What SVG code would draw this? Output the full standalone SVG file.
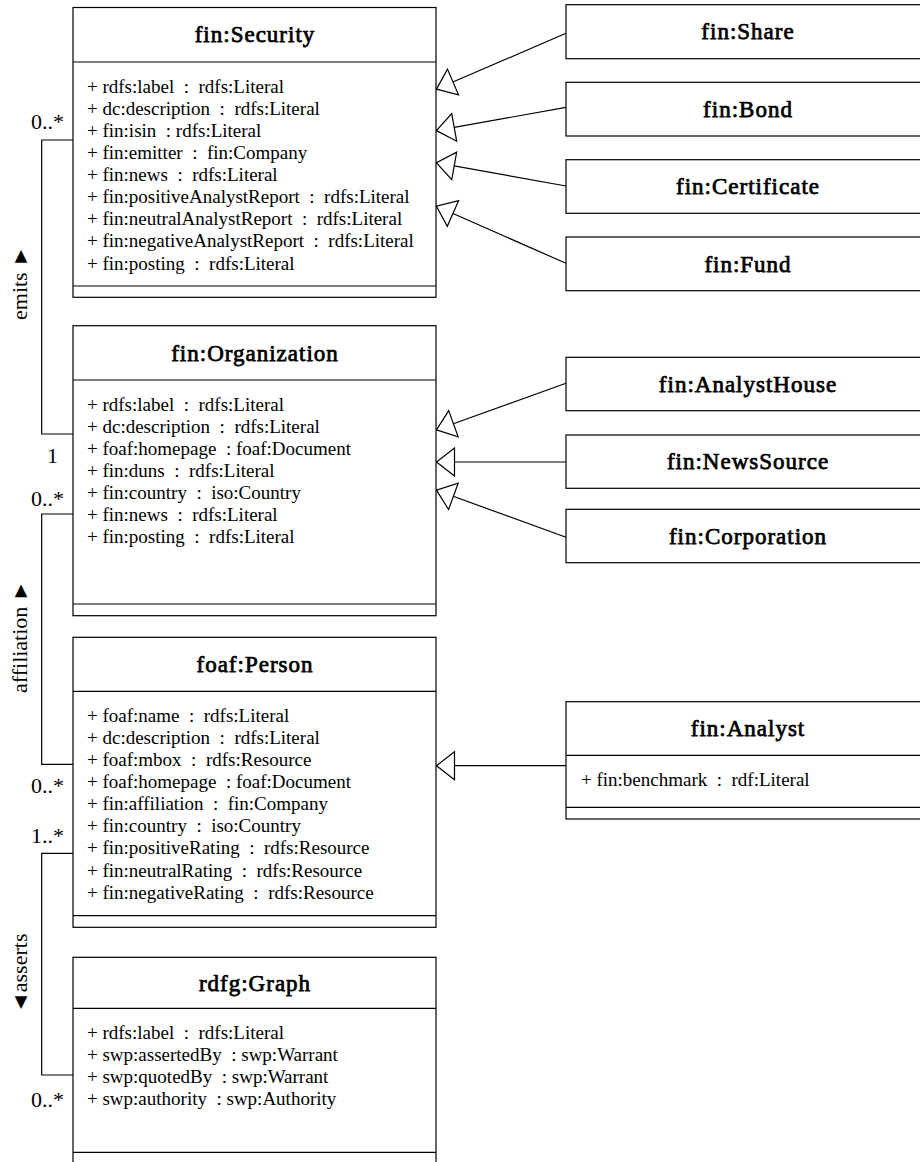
<svg xmlns="http://www.w3.org/2000/svg" width="920" height="1162" viewBox="0 0 920 1162">
<style>
.box{fill:#fff;stroke:#000;stroke-width:1.2}
.sep{stroke:#000;stroke-width:1.2;fill:none}
.title{font-family:"Liberation Serif","Times New Roman",serif;font-weight:normal;font-size:23px;letter-spacing:1px;text-anchor:middle;fill:#000;stroke:#000;stroke-width:0.75}
.attr{font-family:"Liberation Serif",serif;font-size:19px;fill:#000;white-space:pre}
.lbl{font-family:"Liberation Serif",serif;font-size:22px;fill:#000}
.mult{font-family:"Liberation Serif",serif;font-size:22px;fill:#000;text-anchor:end}
.conn{stroke:#000;stroke-width:1.2;fill:none}
.gen{stroke:#000;stroke-width:1.2;fill:none;marker-end:url(#tri)}
</style>
<defs>
<marker id="tri" markerUnits="userSpaceOnUse" viewBox="0 -15 20 30" markerWidth="20" markerHeight="30" refX="18.5" refY="0" orient="auto" overflow="visible">
<path d="M18,0 L0,-14 L0,14 Z" fill="#fff" stroke="#000" stroke-width="1.2"/>
</marker>
</defs>

<g id="connectors">
<polyline class="conn" points="73,140 41.7,140 41.7,434 73,434"/>
<polyline class="conn" points="73,514 41.7,514 41.7,764.3 73,764.3"/>
<polyline class="conn" points="73,853.3 41.7,853.3 41.7,1075 73,1075"/>
<line class="gen" x1="566" y1="33.3" x2="436" y2="89.3"/>
<line class="gen" x1="566" y1="107.3" x2="436" y2="130.7"/>
<line class="gen" x1="566" y1="186" x2="436" y2="162.7"/>
<line class="gen" x1="566" y1="263.3" x2="436" y2="206"/>
<line class="gen" x1="566" y1="383.3" x2="436" y2="430"/>
<line class="gen" x1="566" y1="462" x2="436" y2="462"/>
<line class="gen" x1="566" y1="537.3" x2="436" y2="490"/>
<line class="gen" x1="566" y1="765.7" x2="436" y2="765.7"/>
<text class="mult" x="64" y="129.3">0..*</text>
<text class="mult" x="58" y="462.7">1</text>
<text class="mult" x="64" y="506">0..*</text>
<text class="mult" x="64" y="793.3">0..*</text>
<text class="mult" x="64" y="842.7">1..*</text>
<text class="mult" x="64" y="1106.7">0..*</text>
<text class="lbl" transform="translate(27,320) rotate(-90)">emits <tspan font-size="21">►</tspan></text>
<text class="lbl" transform="translate(27,693) rotate(-90)">affiliation <tspan font-size="21">►</tspan></text>
<text class="lbl" transform="translate(27,1013) rotate(-90)"><tspan font-size="21">◄</tspan>asserts</text>
</g>

<g id="fin-Security">
<rect class="box" x="73" y="7.5" width="363" height="289.8"/>
<line class="sep" x1="73" y1="62" x2="436" y2="62"/>
<line class="sep" x1="73" y1="286" x2="436" y2="286"/>
<text class="title" x="255" y="42.4">fin:Security</text>
<text class="attr" xml:space="preserve" x="87" y="92.7">+ rdfs:label  :  rdfs:Literal</text>
<text class="attr" xml:space="preserve" x="87" y="114.8">+ dc:description  :  rdfs:Literal</text>
<text class="attr" xml:space="preserve" x="87" y="136.9">+ fin:isin  : rdfs:Literal</text>
<text class="attr" xml:space="preserve" x="87" y="159">+ fin:emitter  :  fin:Company</text>
<text class="attr" xml:space="preserve" x="87" y="181.1">+ fin:news  :  rdfs:Literal</text>
<text class="attr" xml:space="preserve" x="87" y="203.2">+ fin:positiveAnalystReport  :  rdfs:Literal</text>
<text class="attr" xml:space="preserve" x="87" y="225.3">+ fin:neutralAnalystReport  :  rdfs:Literal</text>
<text class="attr" xml:space="preserve" x="87" y="247.4">+ fin:negativeAnalystReport  :  rdfs:Literal</text>
<text class="attr" xml:space="preserve" x="87" y="269.5">+ fin:posting  :  rdfs:Literal</text>
</g>

<g id="fin-Organization">
<rect class="box" x="73" y="325.7" width="363" height="290"/>
<line class="sep" x1="73" y1="380" x2="436" y2="380"/>
<line class="sep" x1="73" y1="604" x2="436" y2="604"/>
<text class="title" x="255" y="360.6">fin:Organization</text>
<text class="attr" xml:space="preserve" x="87" y="410.8">+ rdfs:label  :  rdfs:Literal</text>
<text class="attr" xml:space="preserve" x="87" y="432.9">+ dc:description  :  rdfs:Literal</text>
<text class="attr" xml:space="preserve" x="87" y="455">+ foaf:homepage  : foaf:Document</text>
<text class="attr" xml:space="preserve" x="87" y="477.1">+ fin:duns  :  rdfs:Literal</text>
<text class="attr" xml:space="preserve" x="87" y="499.2">+ fin:country  :  iso:Country</text>
<text class="attr" xml:space="preserve" x="87" y="521.3">+ fin:news  :  rdfs:Literal</text>
<text class="attr" xml:space="preserve" x="87" y="543.4">+ fin:posting  :  rdfs:Literal</text>
</g>

<g id="foaf-Person">
<rect class="box" x="73" y="637.3" width="363" height="290"/>
<line class="sep" x1="73" y1="691.3" x2="436" y2="691.3"/>
<line class="sep" x1="73" y1="915.7" x2="436" y2="915.7"/>
<text class="title" x="255" y="672">foaf:Person</text>
<text class="attr" xml:space="preserve" x="87" y="721.8">+ foaf:name  :  rdfs:Literal</text>
<text class="attr" xml:space="preserve" x="87" y="743.9">+ dc:description  :  rdfs:Literal</text>
<text class="attr" xml:space="preserve" x="87" y="766">+ foaf:mbox  :  rdfs:Resource</text>
<text class="attr" xml:space="preserve" x="87" y="788.1">+ foaf:homepage  : foaf:Document</text>
<text class="attr" xml:space="preserve" x="87" y="810.2">+ fin:affiliation  :  fin:Company</text>
<text class="attr" xml:space="preserve" x="87" y="832.3">+ fin:country  :  iso:Country</text>
<text class="attr" xml:space="preserve" x="87" y="854.4">+ fin:positiveRating  :  rdfs:Resource</text>
<text class="attr" xml:space="preserve" x="87" y="876.5">+ fin:neutralRating  :  rdfs:Resource</text>
<text class="attr" xml:space="preserve" x="87" y="898.6">+ fin:negativeRating  :  rdfs:Resource</text>
</g>

<g id="rdfg-Graph">
<rect class="box" x="73" y="957.3" width="363" height="230"/>
<line class="sep" x1="73" y1="1008.3" x2="436" y2="1008.3"/>
<line class="sep" x1="73" y1="1152.3" x2="436" y2="1152.3"/>
<text class="title" x="255" y="990.5">rdfg:Graph</text>
<text class="attr" xml:space="preserve" x="87" y="1039">+ rdfs:label  :  rdfs:Literal</text>
<text class="attr" xml:space="preserve" x="87" y="1061.1">+ swp:assertedBy  : swp:Warrant</text>
<text class="attr" xml:space="preserve" x="87" y="1083.2">+ swp:quotedBy  : swp:Warrant</text>
<text class="attr" xml:space="preserve" x="87" y="1105.3">+ swp:authority  : swp:Authority</text>
</g>

<g id="fin-Share">
<rect class="box" x="566" y="4.7" width="363" height="54"/>
<text class="title" x="748" y="39.4">fin:Share</text>
</g>
<g id="fin-Bond">
<rect class="box" x="566" y="82.3" width="363" height="53.7"/>
<text class="title" x="748" y="116.9">fin:Bond</text>
</g>
<g id="fin-Certificate">
<rect class="box" x="566" y="159.7" width="363" height="53.6"/>
<text class="title" x="748" y="194.2">fin:Certificate</text>
</g>
<g id="fin-Fund">
<rect class="box" x="566" y="237" width="363" height="53.7"/>
<text class="title" x="748" y="271.5">fin:Fund</text>
</g>
<g id="fin-AnalystHouse">
<rect class="box" x="566" y="357.3" width="363" height="53.4"/>
<text class="title" x="748" y="391.7">fin:AnalystHouse</text>
</g>
<g id="fin-NewsSource">
<rect class="box" x="566" y="435" width="363" height="53.3"/>
<text class="title" x="748" y="469.4">fin:NewsSource</text>
</g>
<g id="fin-Corporation">
<rect class="box" x="566" y="509.3" width="363" height="53.4"/>
<text class="title" x="748" y="543.7">fin:Corporation</text>
</g>
<g id="fin-Analyst">
<rect class="box" x="566" y="701.7" width="363" height="117.3"/>
<line class="sep" x1="566" y1="755.3" x2="929" y2="755.3"/>
<line class="sep" x1="566" y1="807.3" x2="929" y2="807.3"/>
<text class="title" x="748" y="736.2">fin:Analyst</text>
<text class="attr" xml:space="preserve" x="581" y="785.8">+ fin:benchmark  :  rdf:Literal</text>
</g>
</svg>
